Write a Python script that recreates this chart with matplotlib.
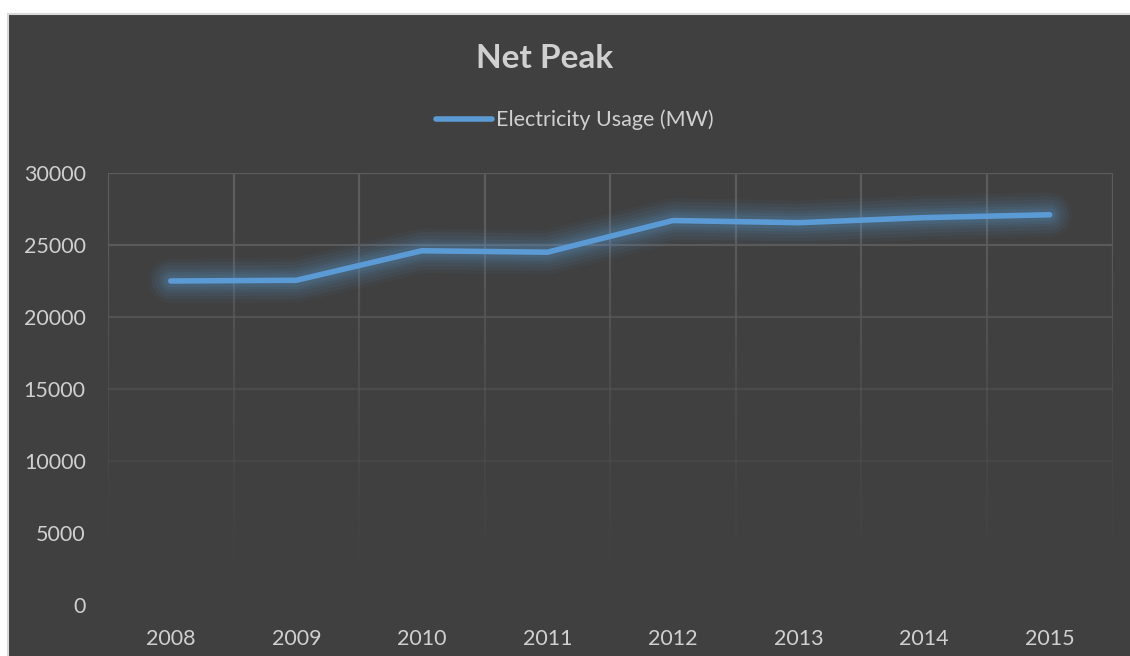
import numpy as np
import matplotlib
matplotlib.use("Agg")
import matplotlib.pyplot as plt
from matplotlib.patches import Rectangle
from matplotlib.collections import LineCollection

plt.rcParams['font.family'] = ['Lato', 'DejaVu Sans']

years = ['2008', '2009', '2010', '2011', '2012', '2013', '2014', '2015']
usage_mw = [22500, 22550, 24600, 24500, 26700, 26550, 26900, 27100]
y_ticks = [0, 5000, 10000, 15000, 20000, 25000, 30000]

BG = '#404040'
GRID = '#5c5c5c'
TEXT = '#d0d0d0'
LINE = '#5b9bd5'

W, H = 1130, 656
fig = plt.figure(figsize=(W / 100, H / 100), dpi=100, facecolor='white')

# dark chart panel with a thin light border, running off the right and bottom edges
fig.patches.append(Rectangle((8 / W, -0.02), 1.02, 1.02 - 14 / H, transform=fig.transFigure,
                             facecolor=BG, edgecolor='#d9d9d9', linewidth=1.5, zorder=-10))

ax = fig.add_axes([108 / W, 1 - 605 / H, (1112.5 - 108) / W, (605 - 173) / H])
ax.patch.set_alpha(0)
for s in ax.spines.values():
    s.set_visible(False)

x = np.arange(len(years))
ax.set_xlim(-0.5, len(years) - 0.5)
ax.set_ylim(0, 30000)

# gridlines that fade out toward the bottom of the plot
ymax = 30000
def fade(v):
    return min(1.0, (v / ymax) ** 1.6 * 1.25)

for yv in y_ticks[1:]:
    ax.axhline(yv, color=GRID, linewidth=1.6, alpha=fade(yv), zorder=1)
n = 60
for xb in np.arange(-0.5, len(years), 1.0):
    ys = np.linspace(ymax, 0, n + 1)
    segs = [[(xb, ys[i]), (xb, ys[i + 1])] for i in range(n)]
    cols = [matplotlib.colors.to_rgba(GRID, fade(ys[i])) for i in range(n)]
    ax.add_collection(LineCollection(segs, colors=cols, linewidths=1.6, zorder=1))

# soft glow under the series line
for lw, a in [(32, 0.05), (27, 0.06), (22, 0.07), (17, 0.08), (13, 0.10), (9, 0.12)]:
    ax.plot(x, usage_mw, color=LINE, linewidth=lw, alpha=a, solid_capstyle='round',
            solid_joinstyle='round', zorder=2)
line, = ax.plot(x, usage_mw, color=LINE, linewidth=4.0, solid_capstyle='round',
                solid_joinstyle='round', zorder=3, label='Electricity Usage (MW)')

ax.set_xticks(x)
ax.set_xticklabels(years)
ax.set_yticks(y_ticks)
ax.set_yticklabels([str(v) for v in y_ticks])
ax.tick_params(axis='both', length=0, labelsize=15.5, colors=TEXT)
ax.tick_params(axis='y', pad=16)
ax.tick_params(axis='x', pad=17)

fig.text(545 / W, 1 - 59 / H, 'Net Peak', ha='center', va='center', fontsize=24,
         fontweight='bold', color=TEXT)
fig.legend(handles=[line], loc='center', bbox_to_anchor=(575 / W, 1 - 120 / H),
           frameon=False, fontsize=15.5, handlelength=2.6, handletextpad=0.2,
           labelcolor=TEXT)

fig.savefig('out.png', dpi=100, facecolor='white')
